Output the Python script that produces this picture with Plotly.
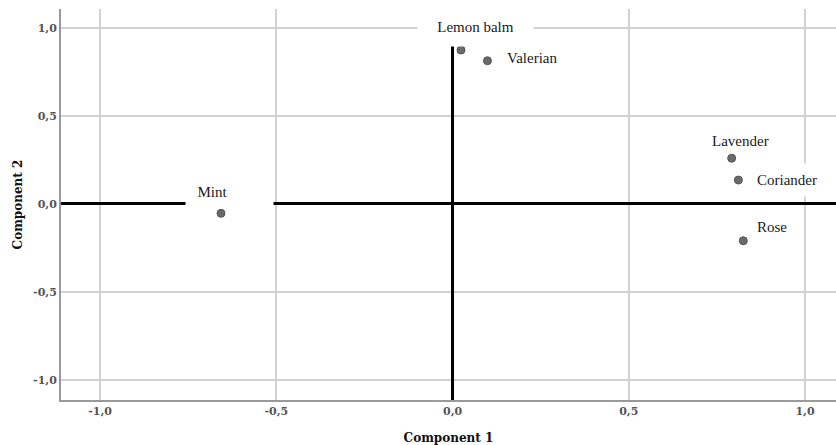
import plotly.graph_objects as go

# Component loadings
labels = ["Lemon balm", "Valerian", "Lavender", "Coriander", "Rose", "Mint"]
comp1 = [0.024, 0.099, 0.792, 0.811, 0.825, -0.657]
comp2 = [0.875, 0.814, 0.260, 0.136, -0.209, -0.053]

tick_vals = [-1.0, -0.5, 0.0, 0.5, 1.0]
tick_text = ["-1,0", "-0,5", "0,0", "0,5", "1,0"]

# label placement (pixel offsets from each point) and white label boxes
label_style = {
    "Lemon balm": dict(xshift=14, yshift=23, width=107, height=30, borderpad=4, text="Lemon balm", align="center"),
    "Valerian": dict(xshift=45, yshift=3, borderpad=2, text="Valerian", align="center"),
    "Lavender": dict(xshift=9, yshift=17, borderpad=2, text="Lavender", align="center"),
    "Coriander": dict(xshift=49, yshift=0, borderpad=8, text="Coriander", align="center"),
    "Rose": dict(xshift=29, yshift=14, borderpad=2, text="Rose", align="center"),
    "Mint": dict(xshift=8, yshift=21, width=79, height=22, borderpad=4, text="\u00a0\u00a0Mint", align="left"),
}

fig = go.Figure()
fig.add_trace(go.Scatter(
    x=comp1, y=comp2, mode="markers",
    marker=dict(size=8, color="#6a6a6a", line=dict(width=1, color="#555555")),
    hoverinfo="skip", showlegend=False,
))

for name, x, y in zip(labels, comp1, comp2):
    st = label_style[name]
    kw = dict(x=x, y=y, xref="x", yref="y", showarrow=False,
              text=st["text"], xshift=st["xshift"], yshift=st["yshift"],
              bgcolor="white", borderpad=st["borderpad"], align=st["align"],
              font=dict(family="Liberation Serif", size=15, color="#1a1a1a"))
    if "width" in st:
        kw["width"] = st["width"]
    if "height" in st:
        kw["height"] = st["height"]
    fig.add_annotation(**kw)

axis_common = dict(
    tickvals=tick_vals, ticktext=tick_text,
    showgrid=True, gridcolor="#d2d2d2", gridwidth=1.5,
    zeroline=True, zerolinecolor="black", zerolinewidth=3,
    showline=True, linecolor="#9a9a9a", linewidth=2, mirror=False,
    ticks="", tickfont=dict(family="DejaVu Serif", size=11, color="#555555", weight="bold"),
)

title_font = dict(family="DejaVu Serif", size=12, color="#111111", weight="bold")

fig.update_xaxes(range=[-1.111, 1.088],
                 title=dict(text="Component 1", standoff=16, font=title_font),
                 **axis_common)
fig.update_yaxes(range=[-1.114, 1.108],
                 title=dict(text="Component 2", standoff=8, font=title_font),
                 **axis_common)

fig.update_layout(
    width=836, height=445,
    margin=dict(l=61, r=0, t=9, b=45),
    plot_bgcolor="white", paper_bgcolor="white",
)

fig.write_html("out.html", config={"displayModeBar": False},
               post_script="document.body.style.margin='0';")
